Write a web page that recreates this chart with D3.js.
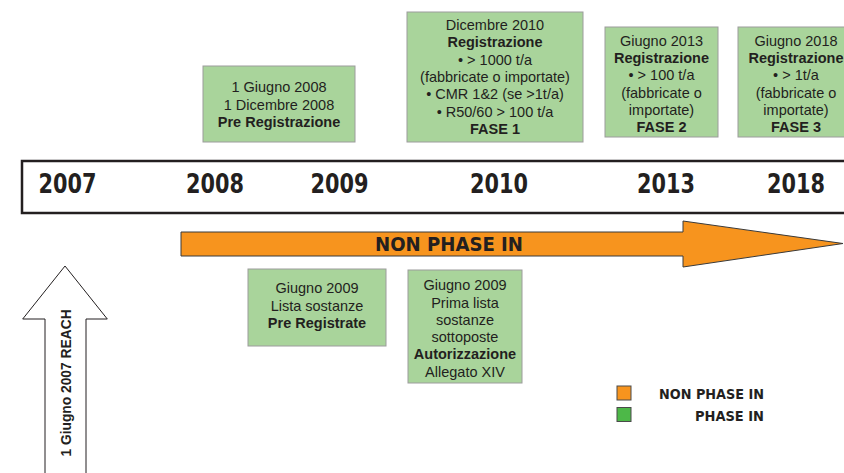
<!DOCTYPE html>
<html>
<head>
<meta charset="utf-8">
<script src="https://cdn.jsdelivr.net/npm/d3@7"></script>
<style>
  html, body { margin: 0; padding: 0; background: #fff; overflow: hidden; }
  svg { display: block; }
  .din { font-family: 'DejaVu Sans Condensed', 'DejaVu Sans', sans-serif; font-stretch: condensed; font-weight: bold; fill: #231f20; }
  .box text { font-family: 'Liberation Sans', Arial, sans-serif; font-size: 14.5px; fill: #231f20; }
</style>
</head>
<body>
<svg id="chart" width="844" height="473"></svg>
<script>
// ---------- data ----------
const years = [2007, 2008, 2009, 2010, 2013, 2018];
const yearLabels = ["2007", "2008", "2009", "2010", "2013", "2018"];

const topBoxLines = [
  [["1 Giugno 2008", false], ["1 Dicembre 2008", false], ["Pre Registrazione", true]],
  [["Dicembre 2010", false], ["Registrazione", true], ["• > 1000 t/a", false], ["(fabbricate o importate)", false],
   ["• CMR 1&2 (se >1t/a)", false], ["• R50/60 > 100 t/a", false], ["FASE 1", true]],
  [["Giugno 2013", false], ["Registrazione", true], ["• > 100 t/a", false], ["(fabbricate o", false], ["importate)", false], ["FASE 2", true]],
  [["Giugno 2018", false], ["Registrazione", true], ["• > 1t/a", false], ["(fabbricate o", false], ["importate)", false], ["FASE 3", true]]
];
const bottomBoxLines = [
  [["Giugno 2009", false], ["Lista sostanze", false], ["Pre Registrate", true]],
  [["Giugno 2009", false], ["Prima lista", false], ["sostanze", false], ["sottoposte", false], ["Autorizzazione", true], ["Allegato XIV", false]]
];
const arrowLabel = "NON PHASE IN";
const reachLabel = "1 Giugno 2007 REACH";
const legendLabels = ["NON PHASE IN", "PHASE IN"];
const legendColors = ["#f7941e", "#4db848"];

// ---------- layout ----------
const svg = d3.select("#chart");
const x = d3.scaleLinear().domain(years).range([67.5, 215, 339.5, 499, 666, 796]);

const topBoxLayout = [
  {x: 203, y: 66, w: 152, h: 76, cy: 104.5},
  {x: 407, y: 12, w: 176, h: 130, cy: 77},
  {x: 605, y: 27, w: 113, h: 110, cy: 84},
  {x: 738, y: 27, w: 116, h: 110, cy: 84}
];
const bottomBoxLayout = [
  {x: 248, y: 269, w: 138, h: 77, cy: 305.5},
  {x: 408, y: 270, w: 114, h: 113, cy: 328.5}
];
const lineH = 17.3;

function drawBox(g, lay, lines) {
  const bg = g.append("g").attr("class", "box");
  bg.append("rect")
    .attr("x", lay.x).attr("y", lay.y).attr("width", lay.w).attr("height", lay.h)
    .attr("fill", "#a9d49b").attr("stroke", "#9c9c9c").attr("stroke-width", 1);
  const cx = lay.x + lay.w / 2;
  const n = lines.length;
  bg.selectAll("text").data(lines).join("text")
    .attr("x", cx)
    .attr("y", (d, i) => lay.cy + (i - (n - 1) / 2) * lineH + 5)
    .attr("text-anchor", "middle")
    .attr("font-weight", d => d[1] ? "bold" : "normal")
    .text(d => d[0]);
}

// timeline band
svg.append("rect")
  .attr("x", 22).attr("y", 161).attr("width", 840).attr("height", 52)
  .attr("fill", "#fff").attr("stroke", "#231f20").attr("stroke-width", 2.5);

svg.selectAll("text.year").data(years).join("text")
  .attr("class", "year din")
  .attr("x", d => x(d))
  .attr("y", 193)
  .attr("text-anchor", "middle")
  .attr("font-size", 26)
  .attr("textLength", 58)
  .attr("lengthAdjust", "spacingAndGlyphs")
  .text((d, i) => yearLabels[i]);

// top boxes
topBoxLayout.forEach((lay, i) => drawBox(svg, lay, topBoxLines[i]));

// orange arrow
const arrowPts = [[181, 232], [683, 232], [683, 221], [843, 243.5], [683, 267], [683, 256], [181, 256]];
svg.append("path")
  .attr("d", d3.line()(arrowPts) + "Z")
  .attr("fill", legendColors[0]).attr("stroke", "#3a3a3a").attr("stroke-width", 1);
svg.append("text")
  .attr("class", "din")
  .attr("x", 449).attr("y", 251)
  .attr("text-anchor", "middle")
  .attr("font-size", 20)
  .attr("textLength", 148)
  .attr("lengthAdjust", "spacingAndGlyphs")
  .text(arrowLabel);

// bottom boxes
bottomBoxLayout.forEach((lay, i) => drawBox(svg, lay, bottomBoxLines[i]));

// REACH up arrow
const upPts = [[45, 490], [45, 319], [22.7, 319], [65, 266], [107.3, 319], [86, 319], [86, 490]];
svg.append("path")
  .attr("d", d3.line()(upPts) + "Z")
  .attr("fill", "#fff").attr("stroke", "#231f20").attr("stroke-width", 1);
svg.append("text")
  .attr("transform", "translate(71,383) rotate(-90)")
  .attr("text-anchor", "middle")
  .attr("font-family", "'Liberation Sans', Arial, sans-serif")
  .attr("font-weight", "bold")
  .attr("font-size", 13.8)
  .attr("fill", "#231f20")
  .text(reachLabel);

// legend
const legend = svg.append("g");
legend.selectAll("rect").data(legendColors).join("rect")
  .attr("x", 617).attr("y", (d, i) => 386 + i * 21.5)
  .attr("width", 14).attr("height", 14)
  .attr("fill", d => d).attr("stroke", "#4a4a4a").attr("stroke-width", 1);
legend.selectAll("text").data(legendLabels).join("text")
  .attr("class", "din")
  .attr("x", 764).attr("y", (d, i) => 399 + i * 21.5)
  .attr("text-anchor", "end")
  .attr("font-size", 14)
  .attr("textLength", (d, i) => i === 0 ? 105 : 69)
  .attr("lengthAdjust", "spacingAndGlyphs")
  .text(d => d);
</script>
</body>
</html>
